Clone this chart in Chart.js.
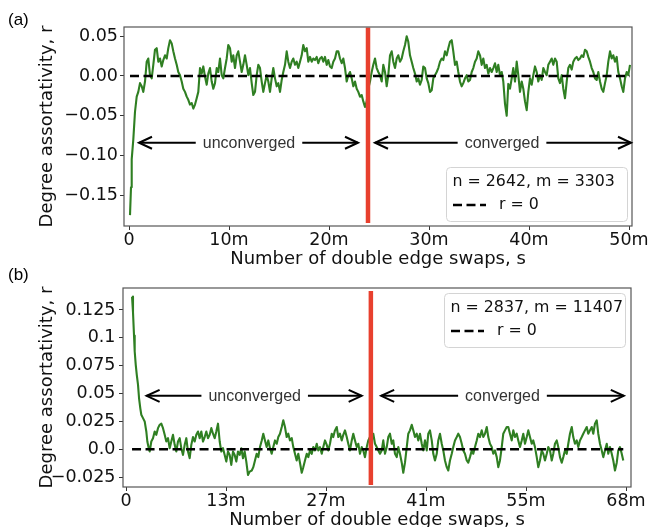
<!DOCTYPE html>
<html><head><meta charset="utf-8">
<script src="https://cdn.jsdelivr.net/npm/chart.js@4/dist/chart.umd.min.js"></script>
<style>
html,body{margin:0;padding:0;background:#fff;overflow:hidden;width:649px;height:527px;position:relative;}
canvas{position:absolute;left:0;}
#ca{top:0;}
#cb{top:270px;}
.lab{position:absolute;z-index:5;font-family:"Liberation Sans",Arial,sans-serif;font-size:17px;line-height:17px;color:#000;}
</style></head><body>
<canvas id="ca" width="649" height="270"></canvas>
<canvas id="cb" width="649" height="261"></canvas>
<div class="lab" style="left:8px;top:11px">(a)</div>
<div class="lab" style="left:8px;top:266px">(b)</div>
<script>
// ---------- Panel (a) data ----------
const A_S = [
0.10,0.20,0.27,0.43,0.60,0.77,0.93,1.10,1.27,1.43,
1.60,1.77,1.93,2.10,2.27,2.43,2.60,2.77,2.93,3.10,
3.27,3.43,3.60,3.77,3.93,4.10,4.27,4.43,4.60,4.77,
4.93,5.10,5.27,5.43,5.60,5.77,5.93,6.10,6.27,6.43,
6.60,6.77,6.93,7.10,7.27,7.43,7.60,7.77,7.93,8.10,
8.27,8.43,8.60,8.77,8.93,9.10,9.27,9.43,9.60,9.77,
9.93,10.10,10.27,10.43,10.60,10.77,10.93,11.10,11.27,11.43,
11.60,11.77,11.93,12.10,12.27,12.43,12.60,12.77,12.93,13.10,
13.27,13.43,13.60,13.77,13.93,14.10,14.27,14.43,14.60,14.77,
14.93,15.10,15.27,15.43,15.60,15.77,15.93,16.10,16.27,16.43,
16.60,16.77,16.93,17.10,17.27,17.43,17.60,17.77,17.93,18.10,
18.27,18.43,18.60,18.77,18.93,19.10,19.27,19.43,19.60,19.77,
19.93,20.10,20.27,20.43,20.60,20.77,20.93,21.10,21.27,21.43,
21.60,21.77,21.93,22.10,22.27,22.43,22.60,22.77,22.93,23.10,
23.27,23.43,23.60,23.77,23.93,24.10,24.27,24.43,24.60,24.77,
24.93,25.10,25.27,25.43,25.60,25.77,25.93,26.10,26.27,26.43,
26.60,26.77,26.93,27.10,27.27,27.43,27.60,27.77,27.93,28.10,
28.27,28.43,28.60,28.77,28.93,29.10,29.27,29.43,29.60,29.77,
29.93,30.10,30.27,30.43,30.60,30.77,30.93,31.10,31.27,31.43,
31.60,31.77,31.93,32.10,32.27,32.43,32.60,32.77,32.93,33.10,
33.27,33.43,33.60,33.77,33.93,34.10,34.27,34.43,34.60,34.77,
34.93,35.10,35.27,35.43,35.60,35.77,35.93,36.10,36.27,36.43,
36.60,36.77,36.93,37.10,37.27,37.43,37.60,37.77,37.93,38.10,
38.27,38.43,38.60,38.77,38.93,39.10,39.27,39.43,39.60,39.77,
39.93,40.10,40.27,40.43,40.60,40.77,40.93,41.10,41.27,41.43,
41.60,41.77,41.93,42.10,42.27,42.43,42.60,42.77,42.93,43.10,
43.27,43.43,43.60,43.77,43.93,44.10,44.27,44.43,44.60,44.77,
44.93,45.10,45.27,45.43,45.60,45.77,45.93,46.10,46.27,46.43,
46.60,46.77,46.93,47.10,47.27,47.43,47.60,47.77,47.93,48.10,
48.27,48.43,48.60,48.77,48.93,49.10,49.27,49.43,49.60,49.77,
49.93,50.10];
const A_R = [
-0.175,-0.140,-0.105,-0.080,-0.045,-0.026,-0.020,-0.009,-0.013,-0.020,
-0.007,0.018,0.022,0.001,-0.003,0.014,0.033,0.035,0.018,0.022,
0.012,0.020,0.026,0.022,0.035,0.045,0.041,0.031,0.022,0.014,
0.005,0.001,-0.007,-0.016,-0.020,-0.026,-0.030,-0.036,-0.034,-0.041,
-0.036,-0.028,-0.020,0.010,0.003,0.012,-0.001,-0.011,0.003,0.010,
-0.007,-0.016,-0.009,0.010,0.005,0.022,0.001,-0.003,0.010,0.022,
0.039,0.035,0.018,0.026,0.010,0.026,0.031,0.018,0.005,0.014,
0.026,0.014,0.001,0.010,-0.009,-0.024,-0.020,0.001,0.014,0.010,
-0.007,-0.020,-0.009,0.001,-0.007,-0.020,-0.003,0.010,-0.003,-0.013,
-0.009,-0.020,-0.005,0.005,0.014,0.031,0.018,0.010,0.018,0.022,
0.014,0.018,0.010,0.018,0.026,0.039,0.031,0.035,0.018,0.024,
0.018,0.022,0.020,0.024,0.016,0.022,0.024,0.018,0.024,0.014,
0.020,0.012,0.010,0.018,0.022,0.031,0.031,0.022,0.016,0.022,
0.010,-0.007,0.001,0.005,-0.003,-0.013,-0.007,-0.016,-0.020,-0.026,
-0.024,-0.032,-0.039,-0.032,-0.016,-0.007,0.005,0.014,0.022,0.010,
0.005,0.001,-0.007,0.014,0.005,-0.013,0.001,0.026,0.031,0.018,
0.010,0.022,0.026,0.018,0.022,0.031,0.039,0.050,0.043,0.026,
0.018,0.010,0.003,-0.007,-0.003,-0.011,-0.005,0.012,0.010,-0.003,
-0.009,-0.020,-0.018,-0.003,0.001,0.005,0.010,0.018,0.022,0.020,
0.031,0.026,0.035,0.043,0.045,0.031,0.014,0.018,0.005,-0.007,
-0.013,-0.009,-0.003,0.001,-0.007,-0.005,0.005,0.010,0.018,0.022,
0.031,0.026,0.014,0.022,0.010,0.014,0.003,0.010,0.005,0.010,
0.016,0.005,0.014,0.001,0.005,-0.007,-0.035,-0.050,-0.010,-0.016,
-0.003,0.010,-0.007,0.018,0.001,-0.020,-0.007,-0.016,-0.032,-0.043,
-0.020,-0.003,-0.011,0.001,0.012,0.005,-0.007,0.001,-0.005,0.010,
0.005,0.001,0.014,0.018,0.022,0.014,0.022,0.018,-0.003,-0.009,
0.001,-0.016,-0.028,-0.007,0.010,0.014,0.008,0.018,0.022,0.024,
0.020,0.022,0.026,0.024,0.033,0.031,0.024,0.018,0.010,0.005,
-0.003,-0.005,0.005,-0.007,-0.016,-0.020,-0.009,0.001,0.018,0.031,
0.022,0.026,0.018,0.024,0.005,-0.003,-0.013,-0.020,-0.003,0.005,
0.001,0.014];
const A_XTICKS = [0,10,20,30,40,50];
const A_XLABELS = ['0','10m','20m','30m','40m','50m'];
const A_YTICKS = [0.05,0,-0.05,-0.10,-0.15];
const A_YLABELS = ['0.05','0.00','\u22120.05','\u22120.10','\u22120.15'];
const A_SPLIT = 23.9;
const A_SPLIT_SPAN = [-0.185, 0.061];
const A_ARROW_R = -0.084;
const A_UNCONV = [1.0, 12.0, 22.9];
const A_CONV = [24.6, 37.3, 50.2];
const A_LEGEND_TITLE = 'n = 2642, m = 3303';

// ---------- Panel (b) data ----------
const B_S = [
0.82,0.95,1.09,1.18,1.32,1.46,1.63,1.77,1.94,2.08,
2.31,2.54,2.76,2.90,3.09,3.22,3.44,3.67,3.90,4.12,
4.35,4.58,4.80,5.03,5.26,5.48,5.71,5.94,6.16,6.39,
6.62,6.84,7.07,7.30,7.52,7.75,7.98,8.20,8.43,8.66,
8.88,9.11,9.34,9.56,9.79,10.02,10.24,10.47,10.70,10.92,
11.15,11.38,11.60,11.83,12.06,12.28,12.51,12.74,12.96,13.19,
13.42,13.64,13.87,14.10,14.32,14.55,14.78,15.00,15.23,15.46,
15.68,15.91,16.14,16.36,16.59,16.82,17.10,17.31,17.54,17.77,
17.99,18.22,18.46,18.67,18.90,19.13,19.35,19.58,19.81,20.03,
20.26,20.50,20.71,20.94,21.18,21.39,21.62,21.85,22.07,22.30,
22.54,22.75,22.98,23.21,23.43,23.66,23.90,24.11,24.34,24.58,
24.79,25.02,25.26,25.47,25.70,25.94,26.15,26.38,26.62,26.83,
27.06,27.30,27.51,27.74,27.98,28.19,28.42,28.66,28.87,29.10,
29.34,29.55,29.78,30.02,30.23,30.46,30.70,30.91,31.14,31.38,
31.59,31.82,32.06,32.27,32.50,32.74,32.95,33.18,33.42,33.63,
33.86,34.10,34.32,34.54,34.78,34.99,35.22,35.46,35.67,35.90,
36.14,36.35,36.58,36.82,37.03,37.26,37.50,37.71,37.94,38.18,
38.39,38.62,38.86,39.07,39.30,39.54,39.75,39.98,40.22,40.43,
40.66,40.90,41.11,41.34,41.58,41.79,42.02,42.26,42.47,42.70,
42.94,43.15,43.38,43.62,43.83,44.06,44.30,44.51,44.74,44.98,
45.19,45.42,45.66,45.87,46.10,46.34,46.55,46.78,47.02,47.23,
47.46,47.70,47.91,48.14,48.38,48.59,48.82,49.06,49.27,49.50,
49.74,49.95,50.18,50.42,50.63,50.86,51.10,51.31,51.54,51.78,
51.99,52.22,52.46,52.67,52.90,53.14,53.35,53.58,53.82,54.03,
54.26,54.50,54.71,54.94,55.18,55.39,55.62,55.86,56.07,56.30,
56.54,56.75,56.98,57.22,57.43,57.66,57.90,58.11,58.34,58.58,
58.79,59.02,59.26,59.47,59.70,59.94,60.15,60.38,60.62,60.83,
61.06,61.30,61.51,61.74,61.98,62.19,62.42,62.66,62.87,63.10,
63.34,63.55,63.78,64.02,64.23,64.46,64.70,64.91,65.14,65.38,
65.59,65.82,66.06,66.27,66.50,66.74,66.95,67.18,67.42,67.63];
const B_R = [
0.137,0.123,0.102,0.088,0.076,0.067,0.058,0.046,0.037,0.031,
0.028,0.025,0.016,0.007,0.001,-0.002,0.007,0.010,0.016,0.013,
0.019,0.022,0.023,0.019,0.013,0.007,0.010,0.001,0.007,0.013,
0.004,-0.002,0.007,0.010,0.001,-0.005,0.004,0.010,-0.002,-0.008,
0.004,0.011,0.007,0.013,0.016,0.010,0.016,0.007,0.011,0.016,
0.010,0.013,0.019,0.014,0.010,0.016,0.023,0.007,-0.002,0.001,
-0.005,-0.011,-0.002,-0.005,-0.014,-0.002,-0.005,-0.011,-0.002,-0.005,
0.001,-0.008,-0.002,-0.011,-0.023,-0.020,-0.019,-0.016,-0.010,-0.004,
-0.007,0.002,0.008,0.014,0.008,0.002,0.008,0.001,-0.004,0.002,
0.008,0.005,0.011,0.014,0.020,0.026,0.020,0.011,0.014,0.008,
0.010,0.002,-0.004,-0.010,-0.004,-0.012,-0.021,-0.016,-0.010,-0.004,
-0.007,-0.001,-0.004,0.002,-0.001,0.005,-0.001,0.002,-0.004,0.002,
0.008,0.004,-0.001,0.005,0.014,0.011,0.017,0.020,0.011,0.014,
0.008,0.013,0.017,0.011,0.005,-0.001,0.008,0.014,0.008,0.002,
0.005,-0.004,0.002,-0.001,-0.007,0.002,0.008,0.011,0.008,0.014,
0.005,0.002,-0.001,-0.004,-0.001,0.008,-0.004,0.002,0.011,0.014,
0.005,0.008,-0.004,-0.007,0.002,-0.004,-0.012,-0.021,-0.012,0.002,
0.014,0.017,0.022,0.017,0.011,0.014,0.008,0.014,0.005,-0.001,
0.008,-0.001,0.014,0.017,0.008,-0.004,-0.010,-0.004,0.008,0.014,
0.005,-0.001,-0.010,-0.016,-0.019,-0.010,-0.004,0.002,0.008,0.011,
0.014,0.011,0.005,-0.001,-0.004,-0.010,-0.012,-0.007,-0.001,-0.004,
0.002,0.008,0.014,0.011,0.017,0.011,0.014,0.020,0.011,0.005,
0.002,-0.004,-0.001,-0.007,-0.016,-0.010,0.002,0.014,0.017,0.020,
0.020,0.014,0.008,0.017,0.011,0.014,0.008,0.002,0.008,0.014,
0.005,0.011,0.017,0.011,0.005,0.008,0.002,-0.007,-0.016,-0.010,
-0.001,-0.004,-0.010,-0.004,0.002,-0.001,-0.010,-0.004,0.005,0.008,
0.002,-0.007,-0.012,-0.007,-0.001,-0.004,0.005,0.014,0.020,0.011,
0.005,0.008,0.002,0.008,0.011,0.014,0.017,0.020,0.014,0.017,
0.020,0.014,0.023,0.026,0.014,0.005,-0.001,-0.007,-0.001,0.005,
-0.004,0.002,-0.004,-0.010,-0.019,-0.012,-0.001,0.002,-0.004,-0.010];
const B_XTICKS = [0,13.6,27.2,40.8,54.4,68];
const B_XLABELS = ['0','13m','27m','41m','55m','68m'];
const B_YTICKS = [0.125,0.1,0.075,0.05,0.025,0,-0.025];
const B_YLABELS = ['0.125','0.1','0.075','0.05','0.025','0.0','\u22120.025'];
const B_SPLIT = 33.3;
const B_SPLIT_SPAN = [-0.032, 0.142];
const B_ARROW_R = 0.048;
const B_UNCONV = [2.8, 17.5, 32.05];
const B_CONV = [34.7, 51.2, 67.7];
const B_LEGEND_TITLE = 'n = 2837, m = 11407';

const X_TITLE = 'Number of double edge swaps, s';
const Y_TITLE = 'Degree assortativity, r';
const LEGEND_LINE = 'r = 0';
const TXT_UNCONV = 'unconverged';
const TXT_CONV = 'converged';

// ---------- drawing ----------
const FONT = "'DejaVu Sans', sans-serif";
const GREEN = '#2f7f22';
const RED = '#e8402e';
Chart.defaults.font.family = FONT;

function drawArrow(ctx, xFrom, xTo, y) {
  ctx.beginPath(); ctx.moveTo(xFrom, y); ctx.lineTo(xTo, y); ctx.stroke();
  const d = Math.sign(xTo - xFrom);
  ctx.beginPath();
  ctx.moveTo(xTo - d * 13, y - 6);
  ctx.lineTo(xTo, y);
  ctx.lineTo(xTo - d * 13, y + 6);
  ctx.stroke();
}

function makePanel(id, o) {
  const deco = {
    id: 'deco',
    afterDatasetsDraw(chart) {
      const ctx = chart.ctx, ca = chart.chartArea;
      const xs = chart.scales.x, ys = chart.scales.y;
      ctx.save();
      // frame
      ctx.strokeStyle = '#555'; ctx.lineWidth = 1.2;
      ctx.strokeRect(ca.left, ca.top, ca.right - ca.left, ca.bottom - ca.top);
      // annotations
      ctx.font = '16px "Liberation Sans", Arial, sans-serif';
      ctx.textAlign = 'center'; ctx.textBaseline = 'middle';
      const y = ys.getPixelForValue(o.arrowR);
      [[o.unconv, TXT_UNCONV], [o.conv, TXT_CONV]].forEach(([v, t]) => {
        const xl = xs.getPixelForValue(v[0]), xc = xs.getPixelForValue(v[1]), xr = xs.getPixelForValue(v[2]);
        const w = ctx.measureText(t).width;
        ctx.fillStyle = '#333';
        ctx.fillText(t, xc, y + 1);
        ctx.strokeStyle = '#000'; ctx.lineWidth = 2;
        drawArrow(ctx, xc - w / 2 - 7, xl, y);
        drawArrow(ctx, xc + w / 2 + 7, xr, y);
      });
      // legend
      const bw = 181, bh = 54;
      const bx = ca.right - o.leg.right - bw;
      const by = o.leg.anchor === 'bottom' ? ca.bottom - o.leg.off - bh : ca.top + o.leg.off;
      ctx.fillStyle = 'rgba(255,255,255,0.85)';
      ctx.strokeStyle = '#d4d4d4'; ctx.lineWidth = 1;
      ctx.beginPath();
      ctx.roundRect(bx + 0.5, by + 0.5, bw, bh, 4);
      ctx.fill(); ctx.stroke();
      ctx.fillStyle = '#111';
      ctx.font = '15.8px ' + FONT;
      ctx.textAlign = 'left'; ctx.textBaseline = 'middle';
      ctx.fillText(o.legTitle, bx + 6.5, by + 14.5);
      ctx.strokeStyle = '#000'; ctx.lineWidth = 2.5; ctx.setLineDash([9, 4.5]);
      ctx.beginPath(); ctx.moveTo(bx + 7, by + 38); ctx.lineTo(bx + 40, by + 38); ctx.stroke();
      ctx.setLineDash([]);
      ctx.fillText(LEGEND_LINE, bx + 53, by + 38);
      ctx.restore();
    }
  };
  const pts = o.s.map((s, i) => ({x: s, y: o.r[i]}));
  return new Chart(document.getElementById(id), {
    type: 'line',
    data: {datasets: [
      {data: [{x: o.split, y: o.splitSpan[0]}, {x: o.split, y: o.splitSpan[1]}], borderColor: RED, borderWidth: 4.5, pointRadius: 0},
      {data: [{x: o.s[0], y: 0}, {x: o.s[o.s.length - 1], y: 0}], borderColor: '#000', borderWidth: 2.5, borderDash: [9, 4.5], pointRadius: 0},
      {data: pts, borderColor: GREEN, borderWidth: 2.1, pointRadius: 0, tension: 0, borderJoinStyle: 'round'}
    ]},
    options: {
      responsive: false, animation: false, devicePixelRatio: 1,
      events: [],
      layout: {padding: {left: 0, top: o.padTop, right: o.padRight, bottom: 0}},
      plugins: {legend: {display: false}, tooltip: {enabled: false}},
      scales: {
        x: {
          type: 'linear', min: o.xmin, max: o.xmax,
          afterBuildTicks: s => { s.ticks = o.xt.map(v => ({value: v})); },
          afterFit: s => { s.height = 44; },
          ticks: {callback: (v, i) => o.xl[i], font: {family: FONT, size: 17.5}, color: '#111', padding: 0, maxRotation: 0, autoSkip: false},
          grid: {display: true, drawOnChartArea: false, drawTicks: true, tickLength: 4, tickColor: '#333', tickWidth: 1},
          border: {display: false},
          title: {display: true, text: X_TITLE, font: {family: FONT, size: 18}, color: '#111', padding: 0}
        },
        y: {
          type: 'linear', min: o.ymin, max: o.ymax,
          afterBuildTicks: s => { s.ticks = o.yt.map(v => ({value: v})); },
          afterFit: s => { s.width = o.yw; },
          ticks: {callback: (v, i) => o.yl[i], font: {family: FONT, size: 17.5}, color: '#111', padding: o.ypad, autoSkip: false},
          grid: {display: true, drawOnChartArea: false, drawTicks: true, tickLength: 4, tickColor: '#333', tickWidth: 1},
          border: {display: false},
          title: {display: true, text: Y_TITLE, font: {family: FONT, size: 18}, color: '#111', padding: {top: 37, bottom: 0}}
        }
      }
    },
    plugins: [deco]
  });
}

makePanel('ca', {
  s: A_S, r: A_R, xt: A_XTICKS, xl: A_XLABELS, yt: A_YTICKS, yl: A_YLABELS,
  split: A_SPLIT, splitSpan: A_SPLIT_SPAN, arrowR: A_ARROW_R, unconv: A_UNCONV, conv: A_CONV,
  legTitle: A_LEGEND_TITLE, leg: {anchor: 'bottom', off: 5, right: 5},
  xmin: -0.5, xmax: 50.3, ymin: -0.1887, ymax: 0.0616,
  padTop: 27, padRight: 17, yw: 124, ypad: 2
});
makePanel('cb', {
  s: B_S, r: B_R, xt: B_XTICKS, xl: B_XLABELS, yt: B_YTICKS, yl: B_YLABELS,
  split: B_SPLIT, splitSpan: B_SPLIT_SPAN, arrowR: B_ARROW_R, unconv: B_UNCONV, conv: B_CONV,
  legTitle: B_LEGEND_TITLE, leg: {anchor: 'top', off: 5, right: 6},
  xmin: -0.41, xmax: 68.68, ymin: -0.0338, ymax: 0.1447,
  padTop: 18, padRight: 18, yw: 123, ypad: 3.5
});
</script>
</body></html>
